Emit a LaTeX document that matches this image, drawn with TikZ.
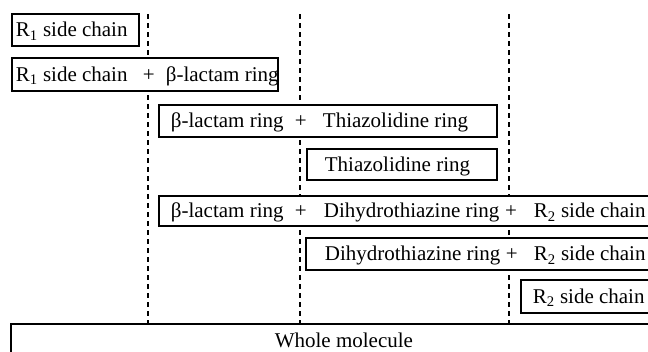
\documentclass[tikz,border=0pt]{standalone}
\usepackage{fontspec}
\setmainfont{Liberation Serif}
\newcommand\putat[2]{\rlap{\hspace*{#1pt}#2}}
\newcommand\plusat[1]{\rlap{\hspace*{#1pt}\makebox[0pt]{+}}}
\begin{document}
\begin{tikzpicture}[x=1pt,y=-1pt,
  box/.style={draw=black, fill=white, line width=1.8pt, anchor=north west,
    inner sep=0pt, text height=14pt, text depth=0pt, font=\fontsize{21}{24}\selectfont},
  dashline/.style={line width=2.4pt, dash pattern=on 5pt off 4pt}]
\useasboundingbox (0,0) rectangle (648,351);
\fill[white] (0,0) rectangle (648,351);
\clip (0,0) rectangle (648,351);
% dashed guide lines
\coordinate (t1) at (148,14);
\coordinate (t2) at (300,14);
\coordinate (t3) at (509,14);
\node[box, minimum height=31pt, draw=none, fill=none] (b8) at (11,324) {\makebox[664pt]{Whole molecule}};
\draw[dashline] (t1) -- (t1 |- b8.north);
\draw[dashline] (t2) -- (t2 |- b8.north);
\draw[dashline] (t3) -- (t3 |- b8.north);
% boxes
\node[box, minimum height=32pt] (b1) at (11,13) {\makebox[127pt][l]{\putat{4}{R\textsubscript{1} side chain}}};
\node[box, minimum height=33pt] (b2) at (11,57) {\makebox[266pt][l]{\putat{4}{R\textsubscript{1} side chain}\plusat{137}\putat{154}{β-lactam ring}}};
\node[box, minimum height=32pt] (b3) at (158,104) {\makebox[338pt][l]{\putat{12}{β-lactam ring}\plusat{142}\putat{164}{Thiazolidine ring}}};
\node[box, minimum height=31pt] (b4) at (306,148) {\makebox[190pt][l]{\putat{18}{Thiazolidine ring}}};
\node[box, minimum height=30pt] (b5) at (158,195) {\makebox[510pt][l]{\putat{12}{β-lactam ring}\plusat{142}\putat{165}{Dihydrothiazine ring}\plusat{352}\putat{375}{R\textsubscript{2} side chain}}};
\node[box, minimum height=32pt] (b6) at (305,237) {\makebox[365pt][l]{\putat{19}{Dihydrothiazine ring}\plusat{206}\putat{228}{R\textsubscript{2} side chain}}};
\node[box, minimum height=33pt] (b7) at (520,279) {\makebox[150pt][l]{\putat{12}{R\textsubscript{2} side chain}}};
\draw[line width=1.8pt] ([yshift=-20pt]b8.south west) -- (b8.north west) -- (b8.north east) -- ([yshift=-20pt]b8.south east);
\end{tikzpicture}
\end{document}
